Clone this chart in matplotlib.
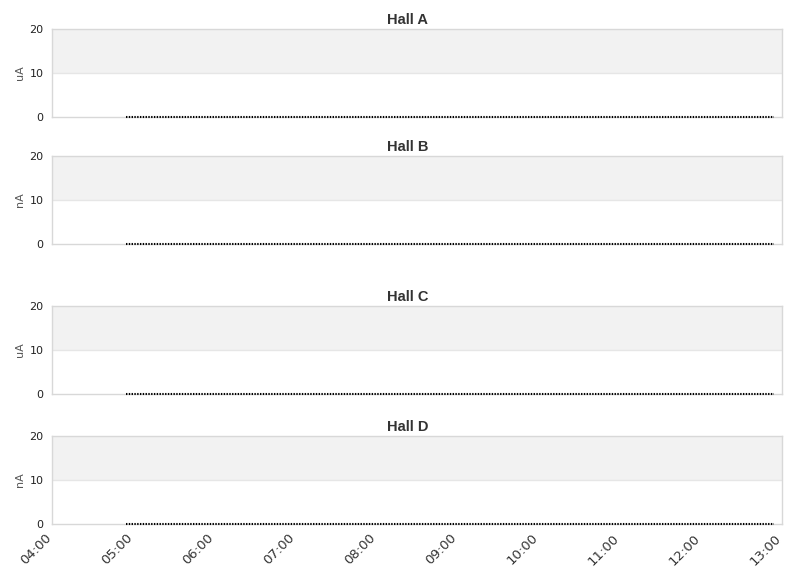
import numpy as np
import pandas as pd
import matplotlib
matplotlib.use("Agg")
import matplotlib.pyplot as plt
import matplotlib.dates as mdates
import matplotlib.transforms as mtransforms

halls = ["Hall A", "Hall B", "Hall C", "Hall D"]
units = ["uA", "nA", "uA", "nA"]

# one reading per minute, all at zero
times = pd.date_range("2024-01-01 04:55", "2024-01-01 12:54", freq="1min")
currents = {h: np.zeros(len(times)) for h in halls}

x_start = pd.Timestamp("2024-01-01 04:00")
x_end = pd.Timestamp("2024-01-01 13:00")
y_ticks = [0, 10, 20]

fig = plt.figure(figsize=(8.11, 5.78), dpi=100)
W, H = 811, 578
left, right = 52, 782
tops = [29, 156, 306, 436]
ph = 88

for i, hall in enumerate(halls):
    top = tops[i]
    ax = fig.add_axes([left / W, 1 - (top + ph) / H, (right - left) / W, ph / H])
    ax.axhspan(10, 20, color="#f2f2f2", zorder=0, lw=0)
    ax.axhline(10, color="#e6e6e6", lw=1, zorder=1)
    ax.plot(times, currents[hall], color="black", lw=1.5,
            linestyle=(0, (0.67, 0.67)), zorder=3, clip_on=False)
    ax.set_xlim(x_start, x_end)
    ax.set_ylim(0, 20)
    ax.set_yticks(y_ticks)
    ax.tick_params(axis="y", length=0, labelsize=8, pad=6, colors="#222222")
    ax.set_ylabel(units[i], fontsize=8, color="#555555", labelpad=3)
    for s in ax.spines.values():
        s.set_color("#d8d8d8")
        s.set_linewidth(1)
    fig.text(408 / W, 1 - (top - 9) / H, hall, ha="center", va="center",
             fontsize=10.5, fontweight="bold", color="#333333",
             family=["Liberation Sans", "DejaVu Sans"])
    ax.xaxis.set_major_locator(mdates.HourLocator())
    ax.xaxis.set_major_formatter(mdates.DateFormatter("%H:%M"))
    if i < 3:
        ax.tick_params(axis="x", length=0, labelbottom=False)
    else:
        ax.tick_params(axis="x", length=0, labelsize=9.5, colors="#333333", pad=8)
        shift = mtransforms.ScaledTranslation(-3 / 100, -1 / 100, fig.dpi_scale_trans)
        for lab in ax.get_xticklabels():
            lab.set_rotation(45)
            lab.set_ha("right")
            lab.set_va("center")
            lab.set_rotation_mode("anchor")
            lab.set_transform(lab.get_transform() + shift)

fig.savefig("out.png", dpi=100)
